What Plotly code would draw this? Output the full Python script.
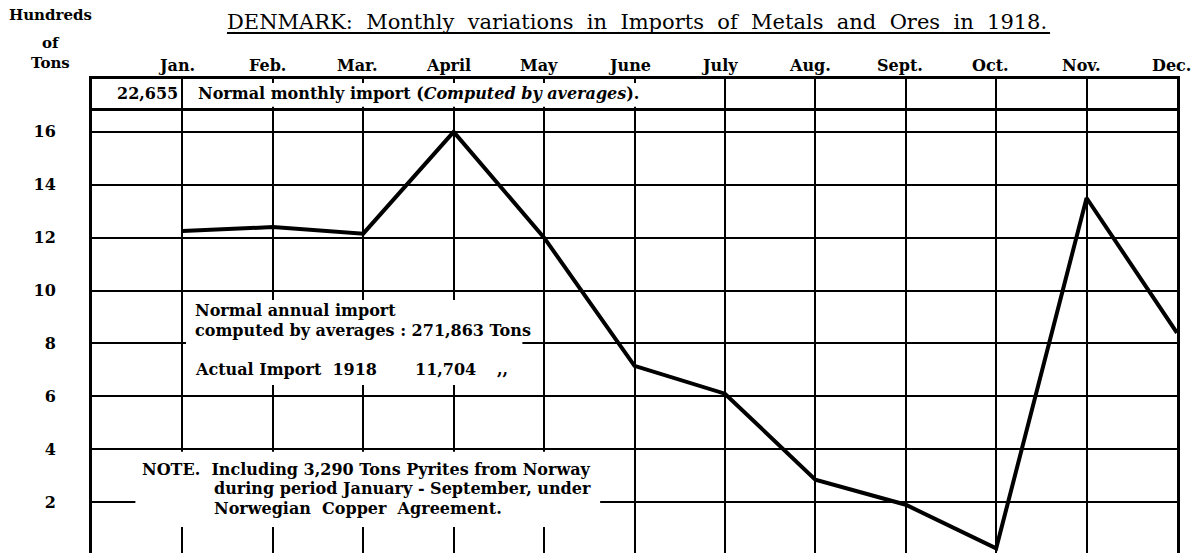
import plotly.graph_objects as go

# Monthly imports of metals and ores, Denmark 1918 (hundreds of tons)
months = ["Jan.", "Feb.", "Mar.", "April", "May", "June",
          "July", "Aug.", "Sept.", "Oct.", "Nov.", "Dec."]
month_pos = list(range(1, 13))
imports_hundreds = [12.25, 12.4, 12.15, 16.0, 12.0, 7.15,
                    6.1, 2.85, 1.9, 0.25, 13.5, 8.4]

y_ticks = [2, 4, 6, 8, 10, 12, 14, 16]
y_ticklabels = [str(v) for v in y_ticks]

normal_monthly = "22,655"
normal_annual = "271,863"
actual_annual = "11,704"

SERIF = "DejaVu Serif"
BODY = dict(family=SERIF, size=16, color="black", weight="bold")
LABEL = dict(family=SERIF, size=15, color="black", weight="bold")

fig = go.Figure()

fig.add_trace(go.Scatter(
    x=month_pos, y=imports_hundreds, mode="lines",
    line=dict(color="black", width=4),
    hoverinfo="skip", showlegend=False,
))

shapes = []
# separator under the "normal monthly import" row
shapes.append(dict(type="line", xref="paper", yref="y", x0=0, x1=1,
                   y0=16.85, y1=16.85, line=dict(color="black", width=3),
                   layer="below"))
# white panels behind the text blocks (hide the ruling there)
for x0, x1, y0, y1 in [(1.08, 6.3, 16.95, 17.85),
                       (1.04, 4.76, 6.43, 9.64),
                       (0.48, 5.62, 1.06, 3.9)]:
    shapes.append(dict(type="rect", xref="x", yref="y", x0=x0, x1=x1,
                       y0=y0, y1=y1, fillcolor="white",
                       line=dict(width=0), layer="between"))
# title underline
shapes.append(dict(type="line", xref="paper", yref="paper",
                   x0=0.1244, x1=0.883, y0=1.097, y1=1.097,
                   line=dict(color="black", width=2)))

ann = []
ann.append(dict(text="DENMARK:  Monthly  variations  in  Imports  of  Metals  and  Ores  in  1918.",
                xref="paper", yref="paper", x=0.502, y=1, yshift=57,
                xanchor="center", yanchor="middle", showarrow=False,
                font=dict(family=SERIF, size=21, color="black")))
for txt, ys in [("Hundreds", 64), ("of", 36), ("Tons", 16)]:
    ann.append(dict(text=txt, xref="paper", yref="paper", x=-0.0378, y=1,
                    yshift=ys, xanchor="center", yanchor="middle",
                    showarrow=False, font=LABEL))
for m, p in zip(months, month_pos):
    ann.append(dict(text=m, xref="x", yref="paper", x=p - 0.06, y=1,
                    yshift=14, xanchor="center", yanchor="middle",
                    showarrow=False,
                    font=dict(family=SERIF, size=16, color="black", weight="bold")))

ann.append(dict(text=normal_monthly, xref="x", yref="y", x=0.975, y=17.45,
                xanchor="right", yanchor="middle", showarrow=False, font=BODY))
ann.append(dict(text="Normal monthly import (<i>Computed by averages</i>).",
                xref="x", yref="y", x=1.15, y=17.45, xanchor="left",
                yanchor="middle", showarrow=False, font=BODY))

ann.append(dict(text="Normal annual import", xref="x", yref="y", x=1.117,
                y=9.24, xanchor="left", yanchor="middle", showarrow=False,
                font=BODY))
ann.append(dict(text="computed by averages : " + normal_annual + " Tons",
                xref="x", yref="y", x=1.117, y=8.48, xanchor="left",
                yanchor="middle", showarrow=False, font=BODY))
ann.append(dict(text="Actual Import  1918", xref="x", yref="y", x=1.117,
                y=7.0, xanchor="left", yanchor="middle", showarrow=False,
                font=BODY))
ann.append(dict(text=actual_annual, xref="x", yref="y", x=3.55, y=7.0,
                xanchor="left", yanchor="middle", showarrow=False, font=BODY))
ann.append(dict(text=",,", xref="x", yref="y", x=4.46, y=7.0,
                xanchor="left", yanchor="middle", showarrow=False, font=BODY))

note_lines = [
    (0.53, 3.25, "NOTE.  Including 3,290 Tons Pyrites from Norway"),
    (1.327, 2.5, "during period January - September, under"),
    (1.327, 1.75, "Norwegian  Copper  Agreement."),
]
for x, y, t in note_lines:
    ann.append(dict(text=t, xref="x", yref="y", x=x, y=y, xanchor="left",
                    yanchor="middle", showarrow=False, font=BODY))

fig.update_layout(
    width=1201, height=553,
    margin=dict(l=92, r=24, t=79, b=0),
    paper_bgcolor="white", plot_bgcolor="white",
    shapes=shapes, annotations=ann,
    xaxis=dict(range=[0, 12], tickvals=month_pos[:-1], showticklabels=False,
               showgrid=True, gridcolor="black", gridwidth=2, zeroline=False,
               side="top", showline=True, linecolor="black", linewidth=3,
               ticks=""),
    yaxis=dict(range=[0.075, 18], tickvals=y_ticks, ticktext=y_ticklabels,
               showgrid=True, gridcolor="black", gridwidth=2, zeroline=False,
               showline=True, mirror=True, linecolor="black", linewidth=3,
               ticks="", ticklabelstandoff=30,
               tickfont=dict(family=SERIF, size=16, color="black", weight="bold")),
)

fig.write_html("out.html")
